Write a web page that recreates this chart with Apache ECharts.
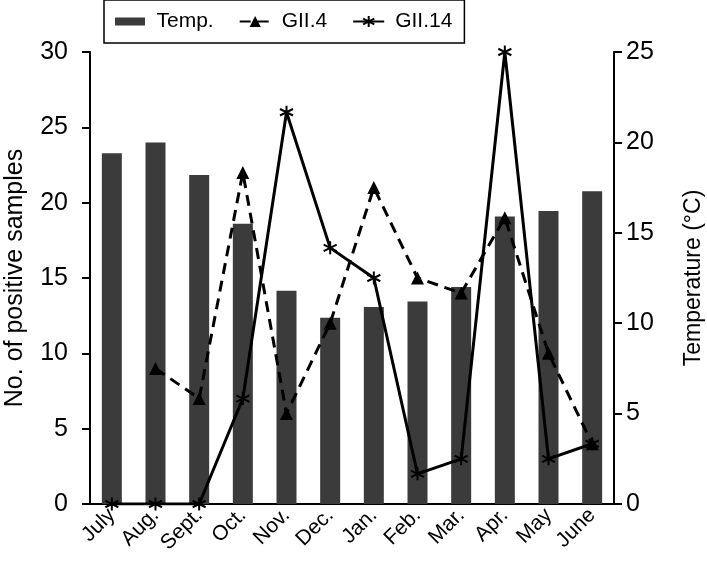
<!DOCTYPE html>
<html>
<head>
<meta charset="utf-8">
<script src="https://cdn.jsdelivr.net/npm/echarts@6/dist/echarts.min.js"></script>
<style>
html,body{margin:0;padding:0;background:#fff;}
#chart{width:707px;height:574px;}
</style>
</head>
<body>
<div id="chart"></div>
<script>
var categories = ['July','Aug.','Sept.','Oct.','Nov.','Dec.','Jan.','Feb.','Mar.','Apr.','May','June'];
var tempValues = [19.4, 20.0, 18.2, 15.5, 11.8, 10.3, 10.9, 11.2, 12.0, 15.9, 16.2, 17.3];
var gii4Values = [null, 9, 7, 22, 6, 12, 21, 15, 14, 19, 10, 4];
var gii14Values = [0, 0, 0, 7, 26, 17, 15, 2, 3, 30, 3, 4];
var leftTicks = [0, 5, 10, 15, 20, 25, 30];
var rightTicks = [0, 5, 10, 15, 20, 25];

var FONT = '"Liberation Sans", Arial, Helvetica, sans-serif';
var asterisk = 'path://M0,-10L0,10M-8.66,-5L8.66,5M-8.66,5L8.66,-5';
var rectIcon = 'path://M0,0L0.01,0L0,0Z M0,3L30,3L30,11L0,11Z M0,14L0.01,14L0,14Z';

var chart = echarts.init(document.getElementById('chart'));
chart.setOption({
  animation: false,
  textStyle: {fontFamily: FONT, color: '#000'},
  legend: {
    left: 104, top: 0,
    padding: [11, 12, 11, 11],
    borderColor: '#000', borderWidth: 1.5,
    itemGap: 25, itemWidth: 31, itemHeight: 14,
    textStyle: {fontFamily: FONT, fontSize: 21, color: '#000', padding: [0, 0, 0, 6]},
    data: [{name: 'Temp.', icon: rectIcon}, 'GII.4', 'GII.14']
  },
  grid: {left: 90, right: 93, top: 52, bottom: 70, outerBoundsMode: 'none', containLabel: false},
  xAxis: {
    type: 'category',
    data: categories,
    axisLine: {lineStyle: {color: '#000', width: 2}},
    axisTick: {length: 8, lineStyle: {color: '#000', width: 2}},
    axisLabel: {rotate: 45, fontSize: 21, color: '#000', margin: 8, fontFamily: FONT, interval: 0}
  },
  yAxis: [{
    type: 'value', min: leftTicks[0], max: leftTicks[leftTicks.length-1], interval: 5,
    name: 'No. of positive samples', nameLocation: 'middle', nameGap: 62,
    nameTextStyle: {fontSize: 25, color: '#000', fontFamily: FONT},
    axisLine: {show: true, lineStyle: {color: '#000', width: 2}},
    axisTick: {show: true, length: 8, lineStyle: {color: '#000', width: 2}},
    axisLabel: {fontSize: 25, color: '#000', margin: 22, fontFamily: FONT},
    splitLine: {show: false}
  }, {
    type: 'value', min: rightTicks[0], max: rightTicks[rightTicks.length-1], interval: 5,
    name: 'Temperature (\u00b0C)', nameLocation: 'middle', nameGap: 68, nameRotate: 90,
    nameTextStyle: {fontSize: 23, color: '#000', fontFamily: FONT},
    position: 'right',
    axisLine: {show: true, lineStyle: {color: '#000', width: 2}},
    axisTick: {show: true, length: 8, lineStyle: {color: '#000', width: 2}},
    axisLabel: {fontSize: 25, color: '#000', margin: 12, fontFamily: FONT},
    splitLine: {show: false}
  }],
  series: [{
    name: 'Temp.', type: 'bar', yAxisIndex: 1, barWidth: 20,
    itemStyle: {color: '#3b3b3b'},
    data: tempValues, z: 1
  }, {
    name: 'GII.4', type: 'line', yAxisIndex: 0,
    symbol: 'triangle', symbolSize: 13,
    itemStyle: {color: '#000'},
    lineStyle: {color: '#000', width: 3, type: [11, 7]},
    data: gii4Values, z: 3
  }, {
    name: 'GII.14', type: 'line', yAxisIndex: 0,
    symbol: asterisk, symbolSize: 13,
    itemStyle: {color: '#000', borderColor: '#000', borderWidth: 2},
    lineStyle: {color: '#000', width: 3},
    data: gii14Values, z: 4
  }]
});
</script>
</body>
</html>
